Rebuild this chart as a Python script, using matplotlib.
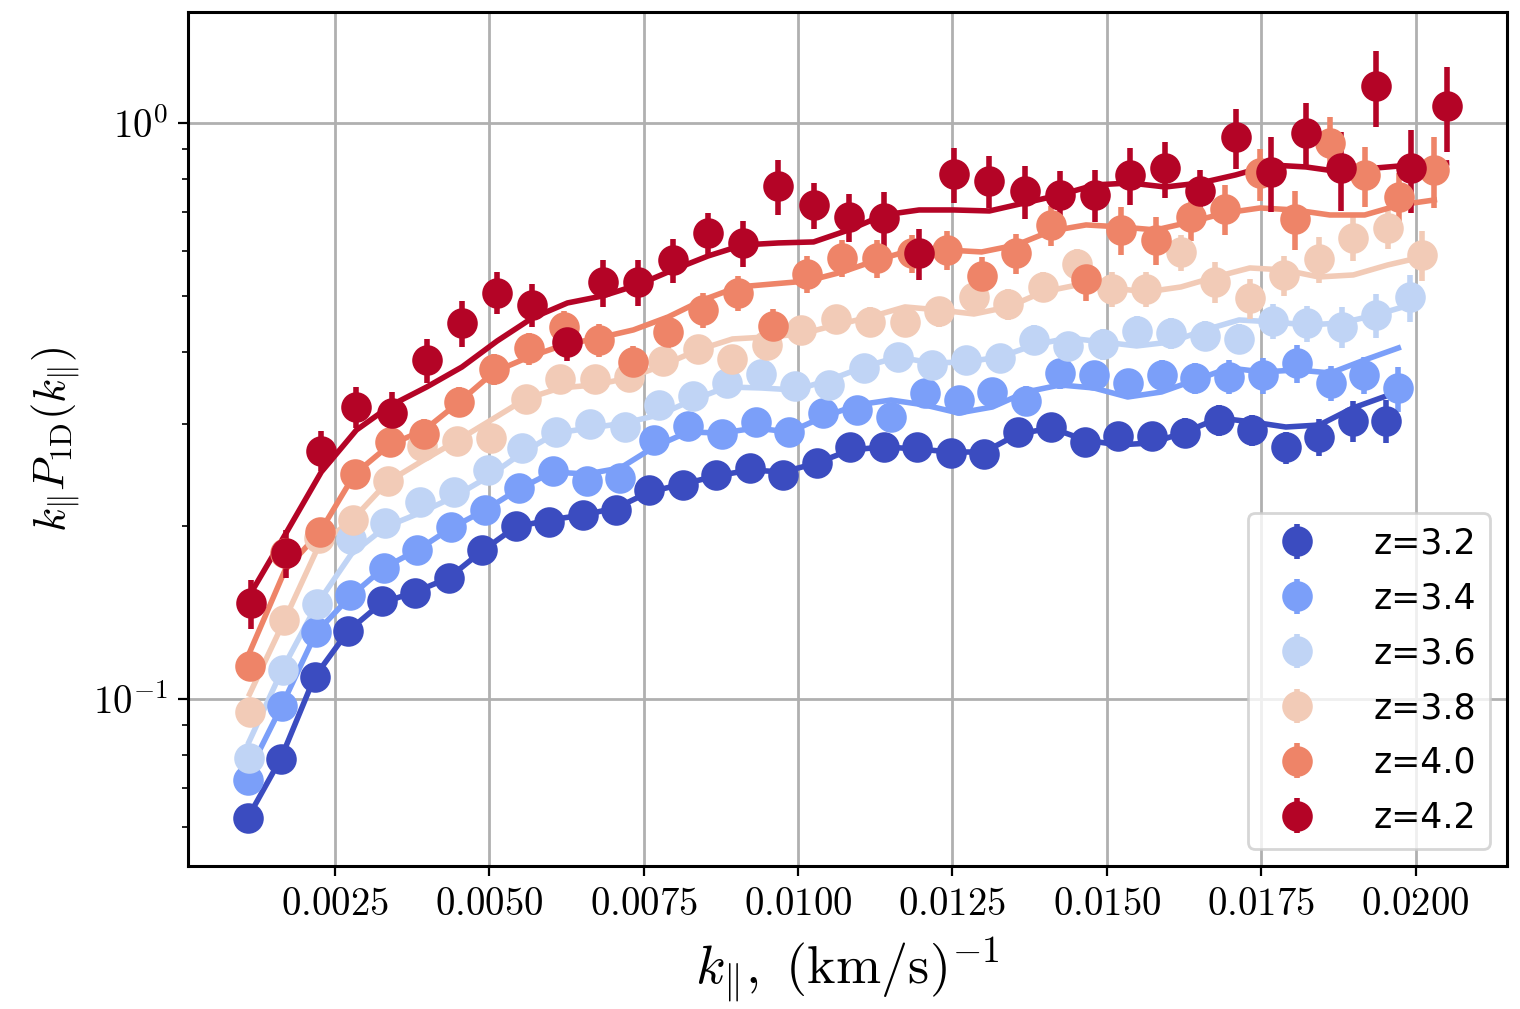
import matplotlib
matplotlib.use('Agg')
import matplotlib.pyplot as plt
import numpy as np
from matplotlib.ticker import FixedLocator, FuncFormatter, NullFormatter, LogLocator

plt.rcParams['mathtext.fontset'] = 'cm'

redshifts = [3.2, 3.4, 3.6, 3.8, 4.0, 4.2]
# bin width in (km/s)^-1 for each redshift, bins n = 2..36
dk = [5.424e-4, 5.478e-4, 5.530e-4, 5.586e-4, 5.640e-4, 5.695e-4]
k_index = np.arange(2, 37)

# measured k P1D(k)
p1d_z32 = [0.0621, 0.0788, 0.1094, 0.1312, 0.1478, 0.1528, 0.1619, 0.1814, 0.1997, 0.2031,
           0.2086, 0.2128, 0.2306, 0.2353, 0.2449, 0.2515, 0.2449, 0.2569, 0.2733, 0.2739,
           0.2733, 0.2674, 0.2663, 0.2911, 0.2972, 0.2797, 0.2862, 0.2862, 0.2899, 0.3050,
           0.2931, 0.2735, 0.2853, 0.3042, 0.3042]
p1d_z34 = [0.0723, 0.0974, 0.1305, 0.1516, 0.1686, 0.1815, 0.1985, 0.2133, 0.2325, 0.2488,
           0.2393, 0.2416, 0.2816, 0.2984, 0.2884, 0.3030, 0.2907, 0.3143, 0.3181, 0.3091,
           0.3401, 0.3304, 0.3408, 0.3291, 0.3677, 0.3652, 0.3533, 0.3652, 0.3604, 0.3627,
           0.3652, 0.3827, 0.3533, 0.3652, 0.3463]
p1d_z36 = [0.0789, 0.1122, 0.1462, 0.1892, 0.2025, 0.2195, 0.2288, 0.2493, 0.2728, 0.2902,
           0.3002, 0.2972, 0.3245, 0.3358, 0.3537, 0.3671, 0.3490, 0.3509, 0.3751, 0.3916,
           0.3801, 0.3877, 0.3904, 0.4200, 0.4096, 0.4129, 0.4359, 0.4314, 0.4268, 0.4217,
           0.4532, 0.4490, 0.4430, 0.4642, 0.4982]
p1d_z38 = [0.0951, 0.1370, 0.1903, 0.2049, 0.2391, 0.2744, 0.2805, 0.2844, 0.3318, 0.3589,
           0.3589, 0.3623, 0.3862, 0.4047, 0.3890, 0.4109, 0.4377, 0.4568, 0.4519, 0.4514,
           0.4713, 0.4994, 0.4850, 0.5198, 0.5692, 0.5144, 0.5144, 0.5964, 0.5303, 0.4962,
           0.5447, 0.5806, 0.6323, 0.6580, 0.5900]
p1d_z40 = [0.1141, 0.1792, 0.1951, 0.2463, 0.2799, 0.2884, 0.3278, 0.3737, 0.4060, 0.4430,
           0.4200, 0.3851, 0.4342, 0.4735, 0.5062, 0.4442, 0.5475, 0.5823, 0.5823, 0.5940,
           0.6019, 0.5425, 0.5940, 0.6639, 0.5360, 0.6520, 0.6265, 0.6876, 0.7091, 0.8178,
           0.6813, 0.9220, 0.8123, 0.7448, 0.8287]
p1d_z42 = [0.1466, 0.1796, 0.2699, 0.3217, 0.3143, 0.3873, 0.4499, 0.5077, 0.4837, 0.4172,
           0.5286, 0.5291, 0.5790, 0.6435, 0.6197, 0.7773, 0.7205, 0.6876, 0.6840, 0.5940,
           0.8149, 0.7942, 0.7614, 0.7499, 0.7499, 0.8123, 0.8343, 0.7629, 0.9444, 0.8231,
           0.9620, 0.8343, 1.1594, 0.8343, 1.0716]

# model curves on the same bins
model_z32 = [0.0621, 0.0790, 0.1092, 0.1312, 0.1468, 0.1534, 0.1622, 0.1807, 0.1989, 0.2045,
             0.2086, 0.2146, 0.2288, 0.2362, 0.2439, 0.2498, 0.2478, 0.2569, 0.2706, 0.2739,
             0.2717, 0.2684, 0.2684, 0.2884, 0.2954, 0.2816, 0.2761, 0.2783, 0.2907, 0.3075,
             0.3026, 0.2966, 0.2990, 0.3200, 0.3358]
model_z34 = [0.0744, 0.0976, 0.1302, 0.1504, 0.1688, 0.1814, 0.1981, 0.2128, 0.2315, 0.2478,
             0.2458, 0.2518, 0.2739, 0.2907, 0.2896, 0.2954, 0.2907, 0.3087, 0.3239, 0.3304,
             0.3239, 0.3137, 0.3213, 0.3412, 0.3509, 0.3467, 0.3344, 0.3412, 0.3579, 0.3755,
             0.3696, 0.3726, 0.3681, 0.3877, 0.4068]
model_z36 = [0.0842, 0.1132, 0.1462, 0.1785, 0.1989, 0.2103, 0.2242, 0.2429, 0.2674, 0.2896,
             0.2954, 0.3014, 0.3112, 0.3304, 0.3481, 0.3467, 0.3439, 0.3579, 0.3770, 0.3924,
             0.3831, 0.3847, 0.3924, 0.4117, 0.4234, 0.4167, 0.4101, 0.4167, 0.4372, 0.4550,
             0.4514, 0.4460, 0.4496, 0.4642, 0.4831]
model_z38 = [0.1020, 0.1366, 0.1843, 0.2053, 0.2381, 0.2589, 0.2805, 0.3050, 0.3318, 0.3467,
             0.3509, 0.3608, 0.3801, 0.4035, 0.4217, 0.4251, 0.4302, 0.4460, 0.4605, 0.4793,
             0.4735, 0.4660, 0.4793, 0.5089, 0.5233, 0.5171, 0.5089, 0.5191, 0.5403, 0.5601,
             0.5557, 0.5403, 0.5447, 0.5669, 0.5853]
model_z40 = [0.1212, 0.1675, 0.1949, 0.2458, 0.2761, 0.2931, 0.3278, 0.3696, 0.3924, 0.4117,
             0.4234, 0.4372, 0.4605, 0.4929, 0.5191, 0.5254, 0.5317, 0.5512, 0.5783, 0.6019,
             0.6019, 0.5971, 0.6141, 0.6494, 0.6652, 0.6599, 0.6520, 0.6732, 0.6978, 0.7119,
             0.7062, 0.6922, 0.6922, 0.7205, 0.7350]
model_z42 = [0.1528, 0.1942, 0.2478, 0.2931, 0.3239, 0.3481, 0.3770, 0.4183, 0.4586, 0.4870,
             0.5008, 0.5233, 0.5557, 0.5876, 0.6141, 0.6190, 0.6215, 0.6520, 0.6922, 0.7062,
             0.7062, 0.7034, 0.7263, 0.7499, 0.7805, 0.7867, 0.7742, 0.7867, 0.8123, 0.8454,
             0.8387, 0.8221, 0.8353, 0.8454, 0.8522]

# fractional 1-sigma errors
relerr_z32 = [0.030, 0.030, 0.030, 0.030, 0.032, 0.032, 0.033, 0.034, 0.035, 0.036,
              0.037, 0.038, 0.040, 0.040, 0.041, 0.042, 0.043, 0.045, 0.046, 0.047,
              0.048, 0.050, 0.050, 0.052, 0.054, 0.055, 0.056, 0.058, 0.060, 0.060,
              0.062, 0.065, 0.075, 0.080, 0.086]
relerr_z34 = [0.035, 0.035, 0.035, 0.036, 0.037, 0.038, 0.039, 0.040, 0.041, 0.042,
              0.043, 0.044, 0.045, 0.046, 0.047, 0.048, 0.050, 0.051, 0.052, 0.053,
              0.055, 0.056, 0.058, 0.060, 0.060, 0.058, 0.060, 0.060, 0.062, 0.068,
              0.072, 0.076, 0.070, 0.075, 0.090]
relerr_z36 = [0.035, 0.036, 0.037, 0.038, 0.039, 0.040, 0.041, 0.042, 0.043, 0.044,
              0.045, 0.046, 0.047, 0.048, 0.050, 0.050, 0.052, 0.053, 0.054, 0.055,
              0.056, 0.057, 0.058, 0.060, 0.060, 0.062, 0.062, 0.062, 0.060, 0.060,
              0.070, 0.072, 0.080, 0.088, 0.093]
relerr_z38 = [0.040, 0.040, 0.042, 0.043, 0.044, 0.045, 0.046, 0.047, 0.048, 0.050,
              0.050, 0.052, 0.053, 0.054, 0.055, 0.056, 0.058, 0.058, 0.060, 0.060,
              0.060, 0.060, 0.062, 0.060, 0.060, 0.070, 0.070, 0.072, 0.080, 0.080,
              0.080, 0.090, 0.088, 0.080, 0.100]
relerr_z40 = [0.050, 0.052, 0.054, 0.056, 0.058, 0.060, 0.060, 0.062, 0.063, 0.064,
              0.065, 0.066, 0.068, 0.070, 0.070, 0.072, 0.073, 0.074, 0.075, 0.076,
              0.078, 0.080, 0.080, 0.080, 0.084, 0.096, 0.096, 0.092, 0.100, 0.104,
              0.116, 0.110, 0.120, 0.100, 0.140]
relerr_z42 = [0.096, 0.096, 0.080, 0.080, 0.084, 0.088, 0.092, 0.084, 0.085, 0.076,
              0.092, 0.092, 0.088, 0.084, 0.092, 0.108, 0.092, 0.096, 0.108, 0.100,
              0.108, 0.105, 0.104, 0.100, 0.104, 0.112, 0.112, 0.088, 0.120, 0.148,
              0.128, 0.156, 0.152, 0.164, 0.168]

data = [p1d_z32, p1d_z34, p1d_z36, p1d_z38, p1d_z40, p1d_z42]
models = [model_z32, model_z34, model_z36, model_z38, model_z40, model_z42]
errors = [relerr_z32, relerr_z34, relerr_z36, relerr_z38, relerr_z40, relerr_z42]

xticks = [0.0025, 0.0050, 0.0075, 0.0100, 0.0125, 0.0150, 0.0175, 0.0200]

fig = plt.figure(figsize=(7.6, 5.045), dpi=200)
ax = fig.add_axes([0.1237, 0.1417, 0.8677, 0.8464])

colors = plt.cm.coolwarm(np.linspace(0, 1, len(redshifts)))
for z, step, p, m, e, c in zip(redshifts, dk, data, models, errors, colors):
    k = k_index * step
    p = np.array(p)
    ax.errorbar(k, p, yerr=p * np.array(e), fmt='o', color=c, ms=10,
                elinewidth=2, capsize=0, label=f'z={z:.1f}')
    ax.plot(k, m, color=c, lw=2)

ax.set_yscale('log')
ax.set_xlim(0.00012, 0.02148)
ax.set_ylim(0.0513, 1.558)

ax.xaxis.set_major_locator(FixedLocator(xticks))
ax.xaxis.set_major_formatter(FuncFormatter(lambda v, _: f'${v:.4f}$'))
ax.yaxis.set_major_locator(FixedLocator([0.1, 1.0]))
ax.yaxis.set_major_formatter(FuncFormatter(
    lambda v, _: r'$10^{0}$' if v > 0.5 else r'$10^{-1}$'))
ax.yaxis.set_minor_locator(LogLocator(base=10, subs=np.arange(2, 10)))
ax.yaxis.set_minor_formatter(NullFormatter())
ax.tick_params(labelsize=14)

ax.grid(True, which='major', color='#b0b0b0', lw=1.0)
ax.set_axisbelow(True)
for s in ax.spines.values():
    s.set_linewidth(1.1)

ax.set_xlabel(r'$k_{\Vert},\ (\mathrm{km/s})^{-1}$', fontsize=19.5)
ax.set_ylabel(r'$k_{\Vert} P_{1\mathrm{D}}(k_{\Vert})$', fontsize=16)

ax.legend(loc='lower right', fontsize=12.5, handletextpad=1.2, labelspacing=0.6)

fig.savefig('out.png', dpi=200)
